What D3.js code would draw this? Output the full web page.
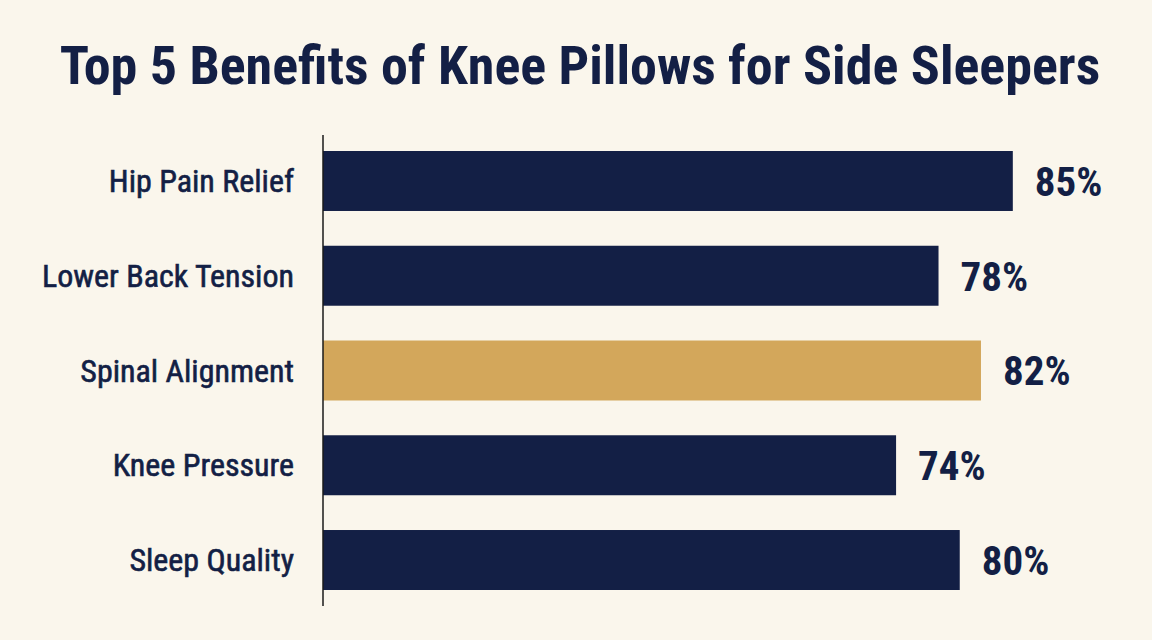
<!DOCTYPE html>
<html>
<head>
<meta charset="utf-8">
<script src="https://cdn.jsdelivr.net/npm/d3@7/dist/d3.min.js"></script>
<style>
  html, body { margin: 0; padding: 0; background: #faf6ec; }
  svg { display: block; }
</style>
</head>
<body>
<svg id="chart" width="1152" height="640"></svg>
<script>
const categories = ["Hip Pain Relief", "Lower Back Tension", "Spinal Alignment", "Knee Pressure", "Sleep Quality"];
const values = [85, 78, 82, 74, 80];
const highlight = ["Spinal Alignment"];
const valueLabels = ["85%", "78%", "82%", "74%", "80%"];
const titleText = "Top 5 Benefits of Knee Pillows for Side Sleepers";

const W = 1152, H = 640;
const navy = "#131f45", gold = "#d3a75b", bg = "#faf6ec";
const condensed = "'Liberation Sans Narrow', 'Roboto Condensed', 'DejaVu Sans Condensed', sans-serif";

const svg = d3.select("#chart");
svg.append("rect").attr("width", W).attr("height", H).attr("fill", bg);

const x = d3.scaleLinear().domain([20, 100]).range([323, 1172]);
const y = d3.scaleBand().domain(categories).range([151, 590]).paddingInner(0.367).paddingOuter(0);

svg.append("text")
  .attr("x", 580).attr("y", 84)
  .attr("text-anchor", "middle")
  .attr("font-family", condensed)
  .attr("font-weight", "bold")
  .attr("font-size", 54)
  .attr("fill", navy)
  .text(titleText);

const data = categories.map((c, i) => ({ c, v: values[i], label: valueLabels[i] }));

svg.append("g").selectAll("rect").data(data).join("rect")
  .attr("x", x.range()[0])
  .attr("y", d => y(d.c))
  .attr("width", d => x(d.v) - x.range()[0])
  .attr("height", y.bandwidth())
  .attr("fill", d => highlight.includes(d.c) ? gold : navy);

// axis line
svg.append("line")
  .attr("x1", x.range()[0]).attr("x2", x.range()[0])
  .attr("y1", 135).attr("y2", 606)
  .attr("stroke", "#1a1a1a").attr("stroke-width", 1.5);

// category labels
svg.append("g").selectAll("text").data(data).join("text")
  .attr("x", x.range()[0] - 29)
  .attr("y", d => y(d.c) + y.bandwidth() / 2)
  .attr("dy", "0.35em")
  .attr("text-anchor", "end")
  .attr("font-family", condensed)
  .attr("font-size", 32)
  .attr("fill", navy)
  .attr("stroke", navy).attr("stroke-width", 0.6)
  .text(d => d.c);

// value labels
svg.append("g").selectAll("text").data(data).join("text")
  .attr("x", d => x(d.v) + 22)
  .attr("y", d => y(d.c) + y.bandwidth() / 2)
  .attr("dy", "0.36em")
  .attr("font-family", condensed)
  .attr("font-weight", "bold")
  .attr("font-size", 41)
  .attr("fill", navy)
  .text(d => d.label);
</script>
</body>
</html>
